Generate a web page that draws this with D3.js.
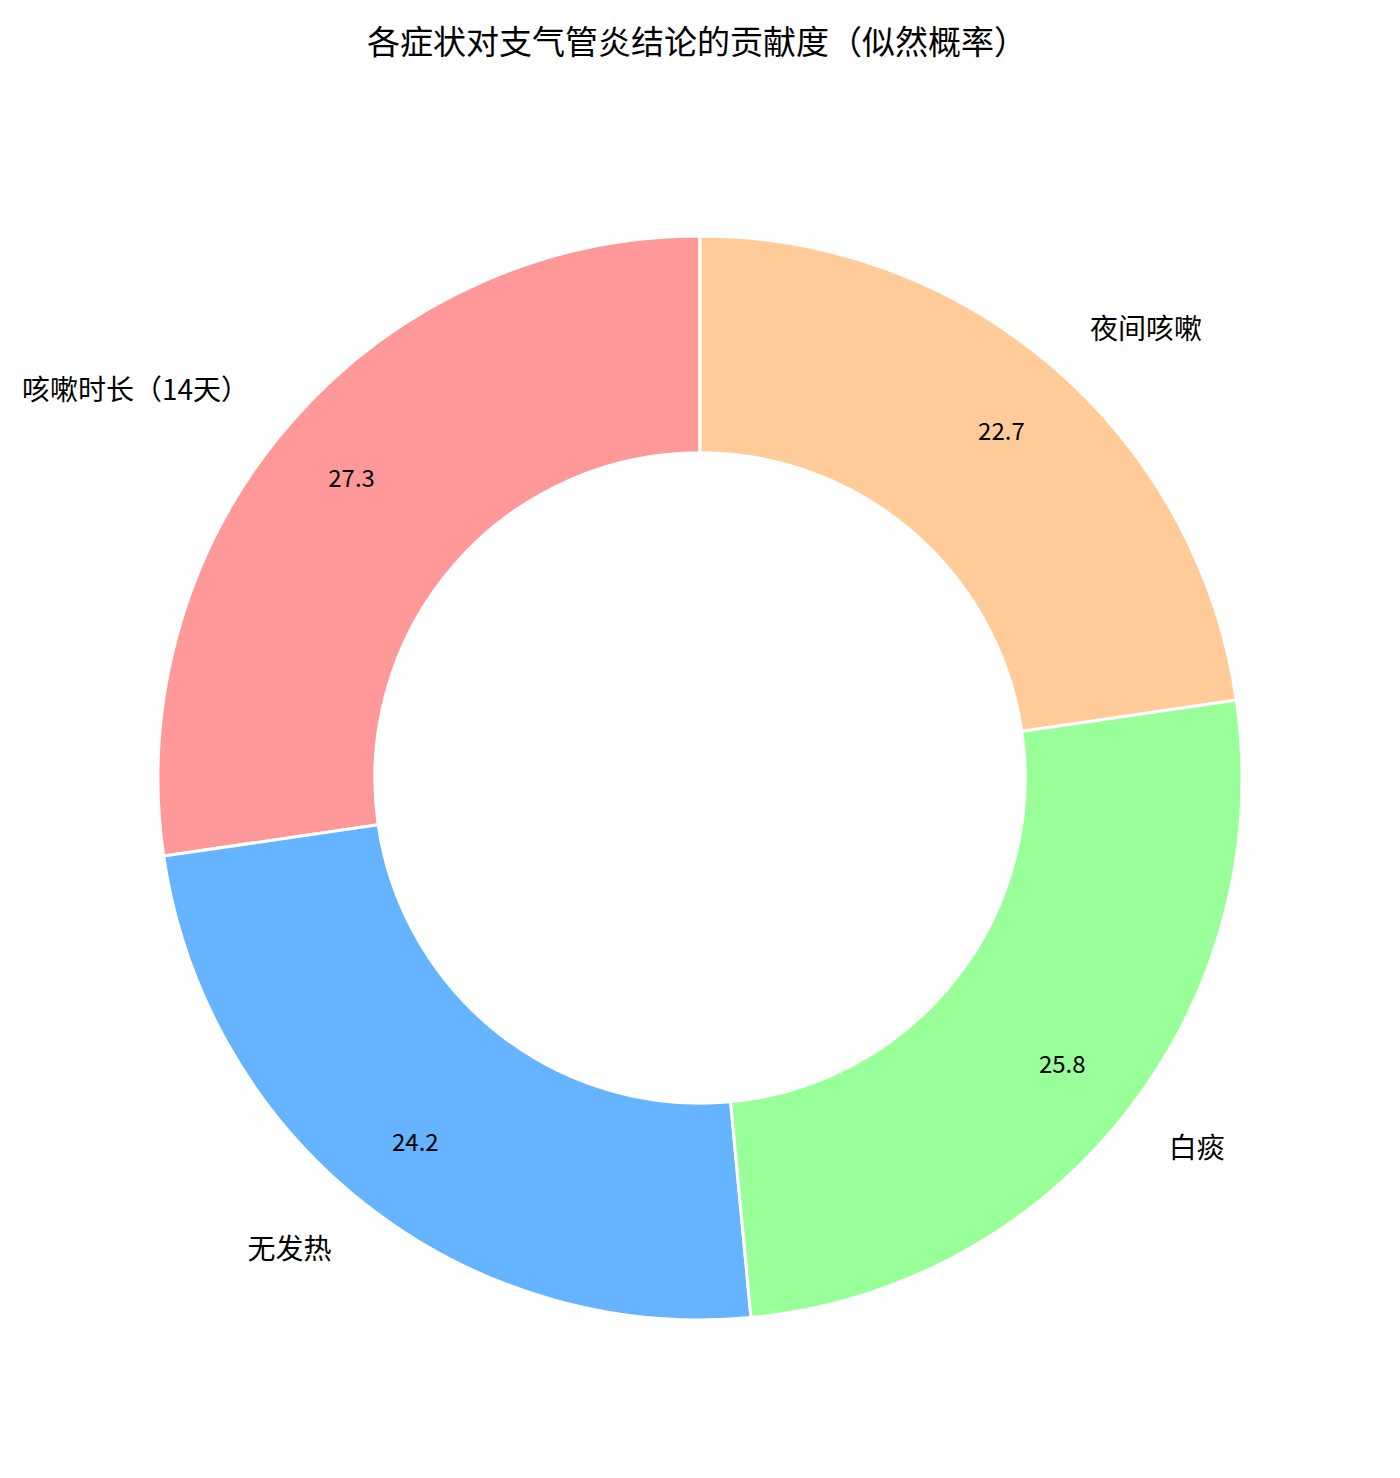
<!DOCTYPE html>
<html><head><meta charset="utf-8">
<script src="https://cdn.jsdelivr.net/npm/d3@7"></script>
<style>body{margin:0;background:#fff;} svg{display:block;}</style>
</head><body>
<script>
const categories = ["咳嗽时长（14天）", "无发热", "白痰", "夜间咳嗽"];
const values = [27.3, 24.2, 25.8, 22.7];
const colors = ["#ff9999", "#66b3ff", "#99ff99", "#ffcc99"];
const title = "各症状对支气管炎结论的贡献度（似然概率）";

const W = 1400, H = 1478;
const cx = 700, cy = 778, R = 542, Ri = R * 0.6;
const font = "'Noto Sans CJK SC', 'Noto Sans', sans-serif";

const svg = d3.select("body").append("svg").attr("width", W).attr("height", H);
svg.append("text").attr("x", 697).attr("y", 40).attr("text-anchor", "middle")
  .attr("dominant-baseline", "central").style("font-family", font).style("font-size", "33px")
  .attr("fill", "#000").text(title);

const data = categories.map((c, i) => ({c, v: values[i], col: colors[i]}));
const pie = d3.pie().value(d => d.v).sort(null).startAngle(0).endAngle(-2 * Math.PI);
const arcs = pie(data);
const arc = d3.arc().innerRadius(Ri).outerRadius(R);
const g = svg.append("g").attr("transform", `translate(${cx},${cy})`);
g.selectAll("path.slice").data(arcs).join("path").attr("class", "slice")
  .attr("d", arc).attr("fill", d => d.data.col).attr("stroke", "#fff").attr("stroke-width", 3)
  .attr("stroke-linejoin", "round");

const pctArc = d3.arc().innerRadius(R * 0.85).outerRadius(R * 0.85);
const labArc = d3.arc().innerRadius(R * 1.1).outerRadius(R * 1.1);
g.selectAll("text.val").data(arcs).join("text").attr("class", "val")
  .attr("transform", d => `translate(${pctArc.centroid(d)})`)
  .attr("text-anchor", "middle").attr("dominant-baseline", "central")
  .style("font-family", font).style("font-size", "24px").attr("fill", "#000")
  .text(d => d3.format(".1f")(d.data.v));
g.selectAll("text.lab").data(arcs).join("text").attr("class", "lab")
  .attr("transform", d => `translate(${labArc.centroid(d)})`)
  .attr("text-anchor", d => labArc.centroid(d)[0] < 0 ? "end" : "start")
  .attr("dominant-baseline", "central")
  .style("font-family", font).style("font-size", "28px").attr("fill", "#000")
  .text(d => d.data.c);
</script>
</body></html>
